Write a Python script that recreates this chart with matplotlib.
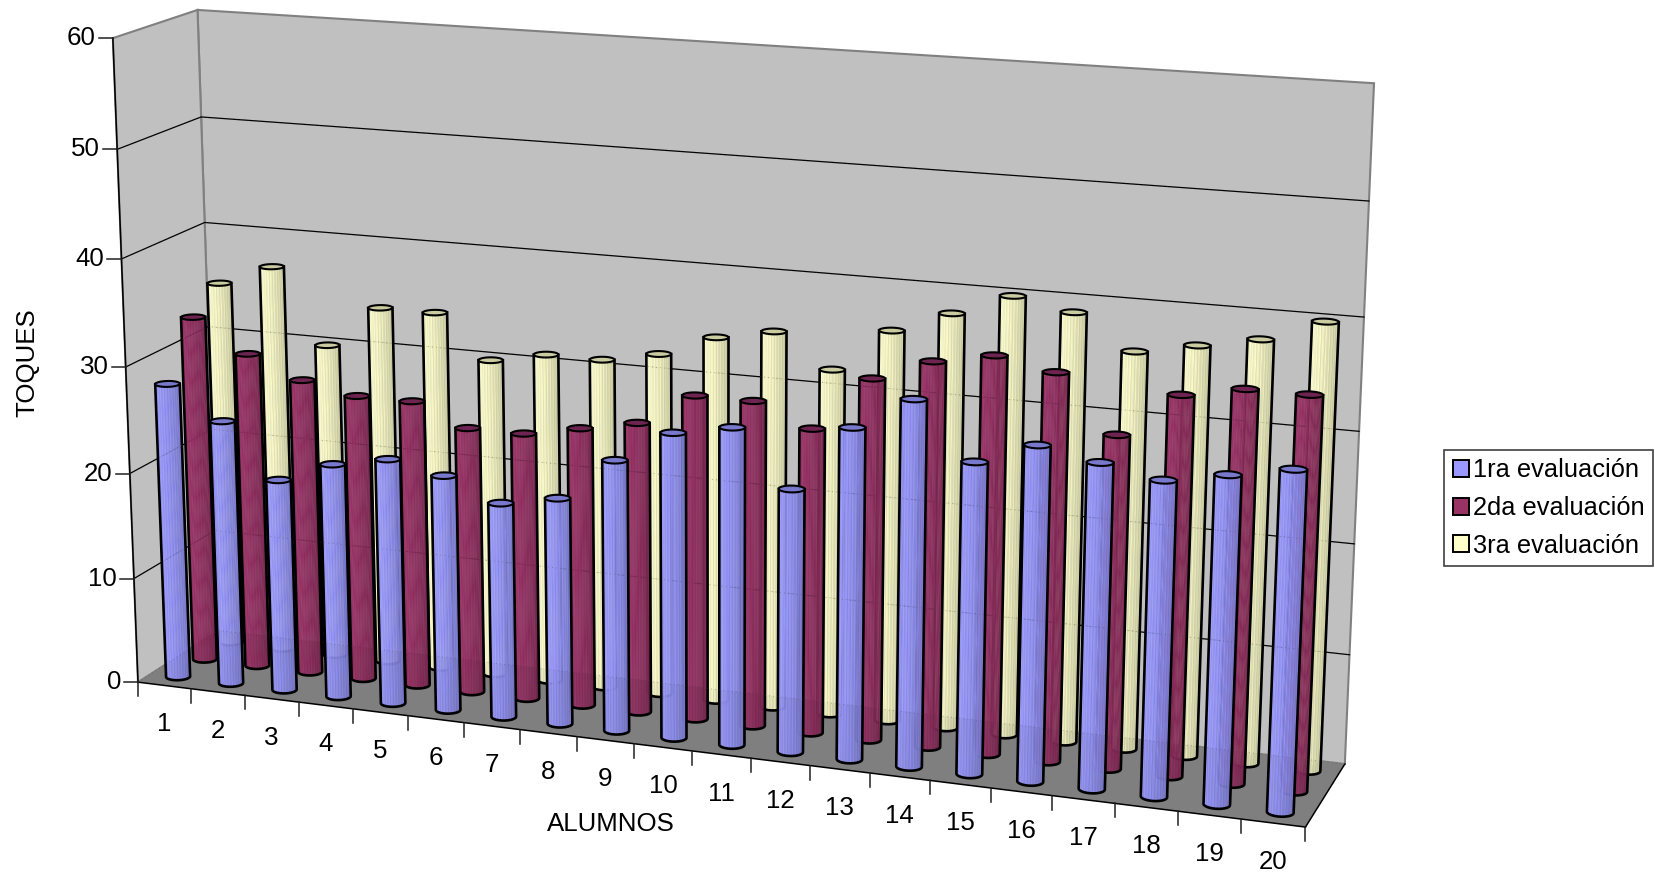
import numpy as np
import matplotlib
matplotlib.use("Agg")
import matplotlib.pyplot as plt
from matplotlib.collections import PolyCollection
from matplotlib.patches import Patch, Polygon

plt.rcParams["font.family"] = ["Liberation Sans", "DejaVu Sans"]

alumnos = [str(i) for i in range(1, 21)]
eval_1 = [28, 25, 20, 22, 23, 22, 20, 21, 25, 28, 29, 24, 30, 33, 28, 30, 29, 28, 29, 30]
eval_2 = [33, 30, 28, 27, 27, 25, 25, 26, 27, 30, 30, 28, 33, 35, 36, 35, 30, 34, 35, 35]
eval_3 = [35, 37, 30, 34, 34, 30, 31, 31, 32, 34, 35, 32, 36, 38, 40, 39, 36, 37, 38, 40]
series_names = ["1ra evaluación", "2da evaluación", "3ra evaluación"]
series_colors = ["#9999FF", "#993366", "#FFFFCC"]
top_colors = ["#7878CC", "#6E2450", "#CBCBA2"]
z_ticks = [0, 10, 20, 30, 40, 50, 60]

# chart box: x = 0..20 categories, y = 0..1 depth, z = 0..60
# camera fitted on the corners of the box as seen in the picture
corners = [
    ((0, 0, 0), (138.3, 681.7)),
    ((0, 0, 60), (112.7, 38.0)),
    ((20, 0, 0), (1305.3, 827.7)),
    ((0, 1, 0), (218.0, 631.0)),
    ((0, 1, 60), (197.7, 10.0)),
    ((20, 1, 0), (1345.0, 763.3)),
    ((20, 1, 60), (1374.0, 83.3)),
]


def fit_camera():
    A, b = [], []
    for (x, y, z), (u, v) in corners:
        A.append([x, y, z, 1, 0, 0, 0, 0, -u * x, -u * y, -u * z])
        A.append([0, 0, 0, 0, x, y, z, 1, -v * x, -v * y, -v * z])
        b += [u, v]
    p = np.linalg.lstsq(np.array(A, float), np.array(b, float), rcond=None)[0]
    return np.append(p, 1).reshape(3, 4)


CAM = fit_camera()


def proj(x, y, z):
    x, y, z = np.broadcast_arrays(np.asarray(x, float), np.asarray(y, float), np.asarray(z, float))
    pts = CAM @ np.stack([x, y, z, np.ones_like(x)])
    return np.stack([pts[0] / pts[2], pts[1] / pts[2]], axis=-1)


def shade(color, f):
    rgb = np.array(matplotlib.colors.to_rgb(color))
    return tuple(np.clip(rgb * f, 0, 1))


def cylinder(ax, cx, cy, value, color, top_color, order_z, rx=0.205, ry=0.065, n=72):
    t = np.linspace(0, 2 * np.pi, n, endpoint=False)
    xs = cx + rx * np.cos(t)
    ys = cy + ry * np.sin(t)
    bottom = proj(xs, ys, 0)
    top = proj(xs, ys, value)

    # front half of the ring, from the leftmost to the rightmost point
    left = int(np.argmin(bottom[:, 0]))
    right = int(np.argmax(bottom[:, 0]))
    order = [(left + i) % n for i in range(n)]
    stop = order.index(right)
    arc_a = order[:stop + 1]
    arc_b = order[stop:] + [left]
    if bottom[arc_a, 1].mean() > bottom[arc_b, 1].mean():
        front = arc_a
    else:
        front = arc_b[::-1]

    polys, cols = [], []
    for k in range(len(front) - 1):
        i, j = front[k], front[k + 1]
        polys.append([bottom[i], bottom[j], top[j], top[i]])
        u = (bottom[i, 0] - bottom[left, 0]) / (bottom[right, 0] - bottom[left, 0])
        f = 1.0 - 0.22 * u ** 1.4
        f *= 1 + 0.07 * np.cos(k * 2.3)
        cols.append(shade(color, f))
    ax.add_collection(PolyCollection(polys, facecolors=cols, edgecolors=cols, linewidths=0.3,
                                     zorder=order_z))

    # black outline: bottom arc plus the two sides, then the lid
    outline = np.vstack([top[front[0]], bottom[front], top[front[-1]]])
    ax.plot(outline[:, 0], outline[:, 1], color="black", lw=1.9, solid_joinstyle="round",
            zorder=order_z + 0.1)
    ax.add_patch(Polygon(top, closed=True, facecolor=top_color, edgecolor="black", lw=1.5,
                         zorder=order_z + 0.2))


def main():
    fig = plt.figure(figsize=(16.55, 8.75), dpi=100)
    ax = fig.add_axes([0, 0, 1, 1])
    ax.set_xlim(0, 1655)
    ax.set_ylim(875, 0)
    ax.axis("off")

    # walls and floor
    back = proj([0, 20, 20, 0], [1, 1, 1, 1], [0, 0, 60, 60])
    side = proj([0, 0, 0, 0], [0, 1, 1, 0], [0, 0, 60, 60])
    floor = proj([0, 20, 20, 0], [0, 0, 1, 1], [0, 0, 0, 0])
    ax.add_patch(Polygon(back, facecolor="#C0C0C0", edgecolor="#808080", lw=1.5, zorder=1))
    ax.add_patch(Polygon(side, facecolor="#C0C0C0", edgecolor="#808080", lw=1.5, zorder=1))
    ax.add_patch(Polygon(floor, facecolor="#848484", edgecolor="none", zorder=1.1))

    # gridlines
    for z in z_ticks[1:-1]:
        line = proj([0, 0, 20], [0, 1, 1], [z, z, z])
        ax.plot(line[:, 0], line[:, 1], color="black", lw=0.9, zorder=2)

    # box edges in black
    for a, b in [((0, 0, 0), (0, 0, 60)), ((0, 0, 0), (20, 0, 0)), ((20, 0, 0), (20, 1, 0))]:
        line = proj(*zip(a, b))
        ax.plot(line[:, 0], line[:, 1], color="black", lw=1.1, zorder=3)

    # ticks and labels
    for z in z_ticks:
        p = proj(0, 0, z)
        ax.plot([p[0] - 14, p[0]], [p[1], p[1]], color="#202020", lw=1.1, zorder=3)
        ax.text(p[0] - 17, p[1], str(z), ha="right", va="center", fontsize=18.6)
    for i in range(21):
        p = proj(i, 0, 0)
        ax.plot([p[0], p[0]], [p[1], p[1] + 14], color="#202020", lw=1.1, zorder=3)
    for i, name in enumerate(alumnos):
        p = proj(i + 0.5, 0, 0)
        ax.text(p[0], p[1] + 39, name, ha="center", va="center", fontsize=18.6)

    # cylinders, back row first
    values = [eval_1, eval_2, eval_3]
    order_z = 4
    for s in [2, 1, 0]:
        depth = (s + 0.5) / 3
        for i in range(20):
            cylinder(ax, i + 0.5, depth, values[s][i], series_colors[s], top_colors[s], order_z)
            order_z += 1

    # floor and faint dotted gridlines seen through the columns
    ax.add_patch(Polygon(floor, facecolor="black", alpha=0.03, edgecolor="none", zorder=order_z))
    for z in z_ticks[:-1]:
        line = proj([0, 0, 20], [0, 1, 1], [z, z, z])
        ax.plot(line[:, 0], line[:, 1], color="#404040", lw=0.6, ls=(0, (1, 4)), alpha=0.45,
                zorder=order_z + 1)

    ax.text(611, 824, "ALUMNOS", ha="center", va="center", fontsize=18.6)
    ax.text(27.5, 363, "TOQUES", ha="center", va="center", rotation=90, fontsize=18.6)

    handles = [Patch(facecolor=c, edgecolor="black", lw=1.4) for c in series_colors]
    leg = ax.legend(handles, series_names, loc="upper left", fontsize=18.3,
                    bbox_to_anchor=(1444.3, 450), bbox_transform=ax.transData,
                    borderaxespad=0, fancybox=False, framealpha=1, edgecolor="#404040",
                    handlelength=0.66, handleheight=0.66, handletextpad=0.14,
                    labelspacing=0.54, borderpad=0.33)
    leg.get_frame().set_linewidth(1.2)
    leg.set_zorder(order_z + 2)

    fig.savefig("out.png", dpi=100)


if __name__ == "__main__":
    main()
